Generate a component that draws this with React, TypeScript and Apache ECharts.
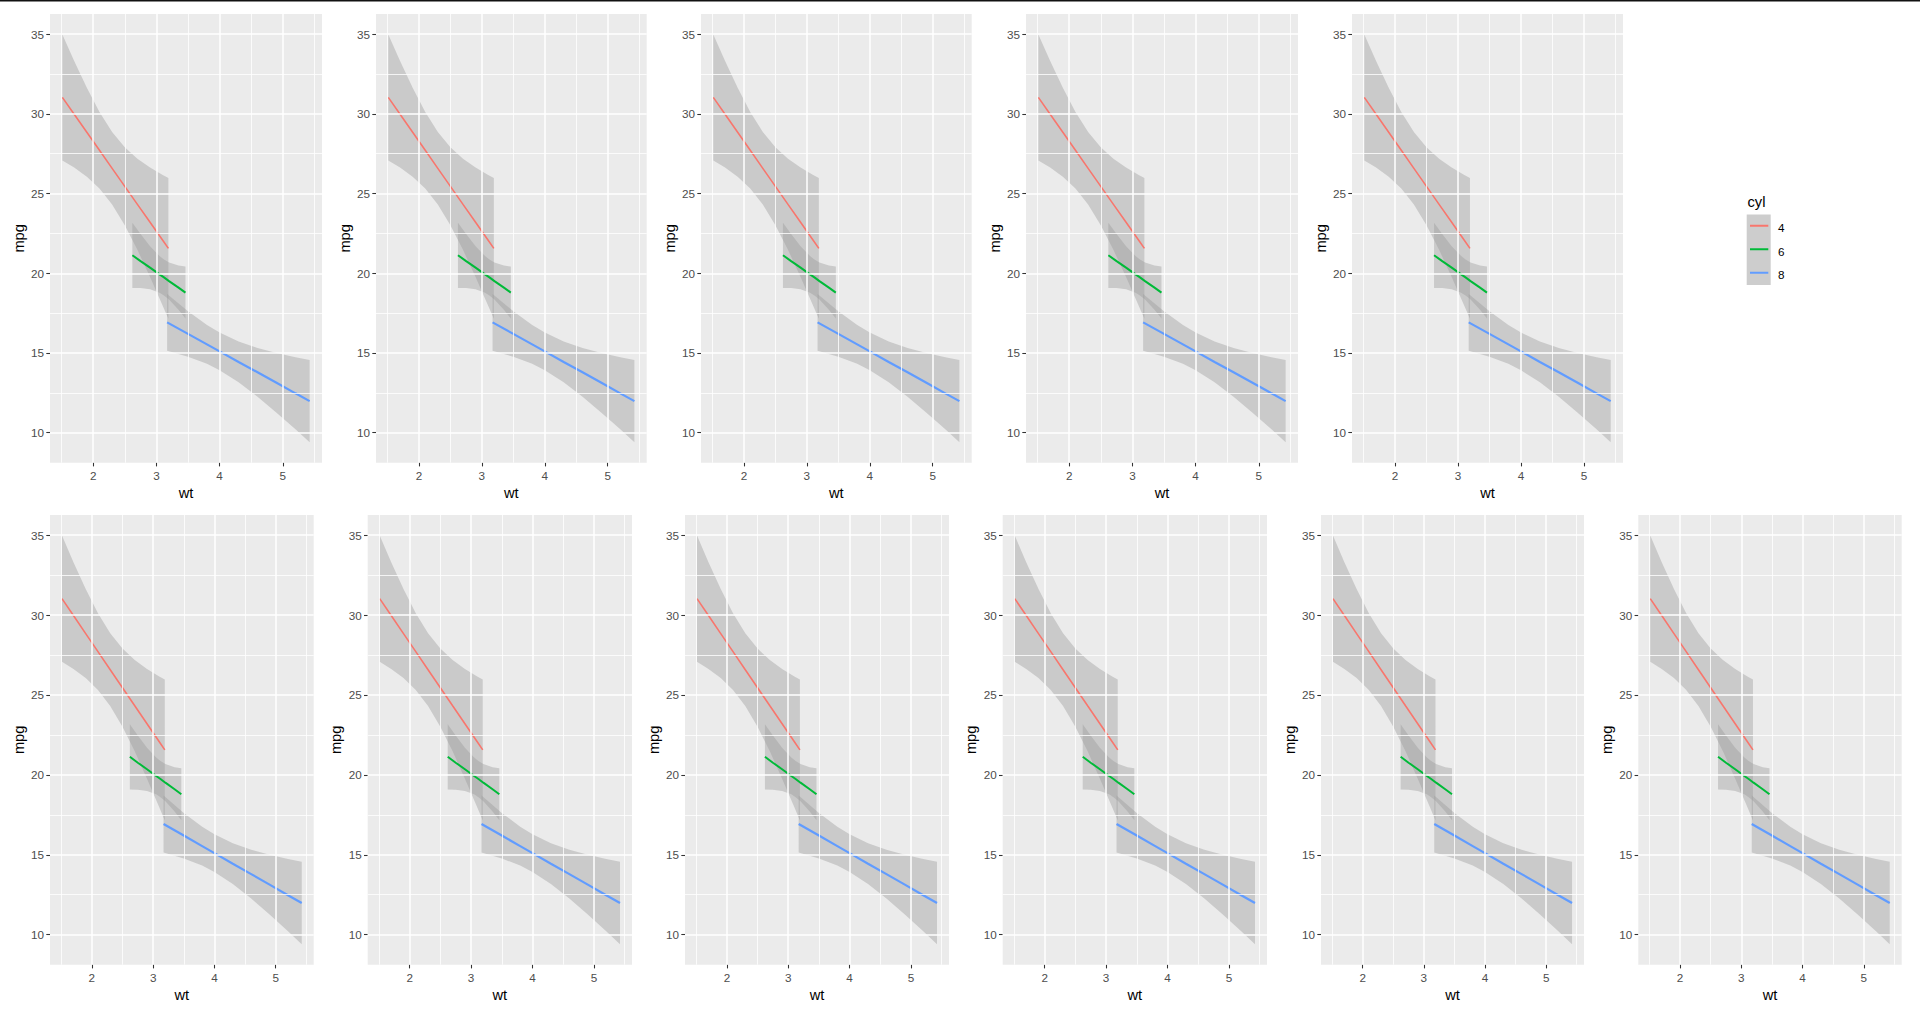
import React, { useEffect, useRef } from "react";
import * as echarts from "echarts";

// ---- data ----
const cylLevels = ["4", "6", "8"];
const cylColors = ["#F8766D", "#00BA38", "#619CFF"];

const wt4 = [1.513, 1.7, 1.9, 2.1, 2.3, 2.5, 2.7, 2.9, 3.1, 3.19];
const fit4 = [31.03, 29.97, 28.84, 27.71, 26.58, 25.45, 24.32, 23.2, 22.07, 21.56];
const lo4 = [27.08, 26.63, 26.06, 25.31, 24.31, 23.01, 21.47, 19.76, 17.97, 17.14];
const hi4 = [34.98, 33.31, 31.63, 30.11, 28.86, 27.9, 27.18, 26.63, 26.16, 25.97];

const wt6 = [2.62, 2.75, 2.9, 3.05, 3.12, 3.2, 3.35, 3.46];
const fit6 = [21.13, 20.76, 20.35, 19.93, 19.74, 19.51, 19.1, 18.79];
const lo6 = [19.08, 19.07, 18.99, 18.78, 18.6, 18.35, 17.71, 17.16];
const hi6 = [23.17, 22.46, 21.7, 21.09, 20.87, 20.68, 20.48, 20.42];

const wt8 = [3.17, 3.5, 3.8, 4.0, 4.3, 4.6, 4.9, 5.2, 5.424];
const fit8 = [16.92, 16.2, 15.54, 15.1, 14.44, 13.79, 13.13, 12.47, 11.98];
const lo8 = [15.14, 14.77, 14.32, 13.92, 13.17, 12.26, 11.26, 10.21, 9.4];
const hi8 = [18.7, 17.62, 16.76, 16.28, 15.72, 15.31, 15.0, 14.74, 14.56];

const xTicks = [2, 3, 4, 5];
const xMinor = [1.5, 2.5, 3.5, 4.5, 5.5];
const yTicks = [10, 15, 20, 25, 30, 35];
const yMinor = [12.5, 17.5, 22.5, 27.5, 32.5];
const xRange = [1.3175, 5.6195];
const yRange = [8.12, 36.26];

// ---- layout ----
const topRowX = [
  [50, 322],
  [376, 646.7],
  [701, 971.7],
  [1026, 1298],
  [1352, 1623],
];
const bottomRowX = [
  [50, 313.7],
  [367.7, 632],
  [685, 949],
  [1002.7, 1267],
  [1321, 1584],
  [1638.3, 1901.7],
];
const topRowY = [14, 462.7];
const bottomRowY = [515, 964.7];

const FONT = "Liberation Sans, Arial, Helvetica, sans-serif";

const groups = [
  { x: wt4, fit: fit4, lo: lo4, hi: hi4 },
  { x: wt6, fit: fit6, lo: lo6, hi: hi6 },
  { x: wt8, fit: fit8, lo: lo8, hi: hi8 },
];
const lineWidths = [1.6, 2.0, 2.2];

function buildOption() {
  const panels: { l: number; r: number; t: number; b: number }[] = [];
  topRowX.forEach(([l, r]) => panels.push({ l, r, t: topRowY[0], b: topRowY[1] }));
  bottomRowX.forEach(([l, r]) => panels.push({ l, r, t: bottomRowY[0], b: bottomRowY[1] }));

  const grid: any[] = [];
  const xAxis: any[] = [];
  const yAxis: any[] = [];
  const series: any[] = [];

  panels.forEach((p, i) => {
    grid.push({
      left: p.l,
      top: p.t,
      width: p.r - p.l,
      height: p.b - p.t,
      show: true,
      backgroundColor: "#EBEBEB",
      borderWidth: 0,
      containLabel: false,
      outerBoundsMode: "none",
    });
    xAxis.push({
      type: "value",
      gridIndex: i,
      min: xRange[0],
      max: xRange[1],
      name: "wt",
      nameLocation: "middle",
      nameGap: 23,
      nameTextStyle: { color: "#000000", fontSize: 14.67, fontFamily: FONT },
      axisLine: { show: false },
      axisTick: {
        show: true,
        length: 3.7,
        customValues: xTicks,
        lineStyle: { color: "#333333", width: 1.07 },
      },
      axisLabel: {
        customValues: xTicks,
        color: "#4D4D4D",
        fontSize: 11.7,
        fontFamily: FONT,
        margin: 7,
      },
      splitLine: { show: false },
    });
    yAxis.push({
      type: "value",
      gridIndex: i,
      min: yRange[0],
      max: yRange[1],
      name: "mpg",
      nameLocation: "middle",
      nameGap: 24,
      nameRotate: 90,
      nameTextStyle: { color: "#000000", fontSize: 14.67, fontFamily: FONT },
      axisLine: { show: false },
      axisTick: {
        show: true,
        length: 3.7,
        customValues: yTicks,
        lineStyle: { color: "#333333", width: 1.07 },
      },
      axisLabel: {
        customValues: yTicks,
        color: "#4D4D4D",
        fontSize: 11.7,
        fontFamily: FONT,
        margin: 6,
      },
      splitLine: { show: false },
    });

    // panel grid lines (white major & minor)
    const ml: any[] = [];
    xMinor.forEach((v) => ml.push({ xAxis: v, lineStyle: { color: "#FFFFFF", width: 0.8, type: "solid" } }));
    yMinor.forEach((v) => ml.push({ yAxis: v, lineStyle: { color: "#FFFFFF", width: 0.8, type: "solid" } }));
    xTicks.forEach((v) => ml.push({ xAxis: v, lineStyle: { color: "#FFFFFF", width: 1.5, type: "solid" } }));
    yTicks.forEach((v) => ml.push({ yAxis: v, lineStyle: { color: "#FFFFFF", width: 1.5, type: "solid" } }));
    series.push({
      type: "line",
      xAxisIndex: i,
      yAxisIndex: i,
      data: [],
      silent: true,
      z: 1,
      markLine: {
        silent: true,
        symbol: ["none", "none"],
        label: { show: false },
        animation: false,
        emphasis: { disabled: true },
        data: ml,
      },
    });

    groups.forEach((g, gi) => {
      series.push({
        type: "custom",
        name: cylLevels[gi],
        xAxisIndex: i,
        yAxisIndex: i,
        silent: true,
        z: 2,
        data: [[g.x[0], g.lo[0]]],
        renderItem: (_params: any, api: any) => {
          const upper = g.x.map((x, k) => api.coord([x, g.hi[k]]));
          const lower = g.x.map((x, k) => api.coord([x, g.lo[k]])).reverse();
          return {
            type: "polygon",
            shape: { points: upper.concat(lower) },
            style: { fill: "rgba(153,153,153,0.4)", stroke: "none" },
          };
        },
      });
    });
    groups.forEach((g, gi) => {
      series.push({
        type: "line",
        name: cylLevels[gi],
        xAxisIndex: i,
        yAxisIndex: i,
        z: 3,
        silent: true,
        showSymbol: false,
        symbol: "none",
        data: g.x.map((x, k) => [x, g.fit[k]]),
        lineStyle: { color: cylColors[gi], width: lineWidths[gi] },
      });
    });
  });

  // legend drawn as graphic elements
  const keyTop = 214.5;
  const keyH = 23.5;
  const legendEls: any[] = [
    {
      type: "text",
      left: 1747.5,
      top: 194,
      style: { text: "cyl", fill: "#000000", font: `14.67px ${FONT}` },
    },
    {
      type: "rect",
      shape: { x: 1746.7, y: keyTop, width: 24, height: keyH * 3 },
      style: { fill: "#CDCDCD" },
    },
  ];
  cylLevels.forEach((lv, gi) => {
    const cy = keyTop + keyH * gi + keyH / 2 - 0.5;
    legendEls.push({
      type: "line",
      shape: { x1: 1750, y1: cy, x2: 1768.3, y2: cy },
      style: { stroke: cylColors[gi], lineWidth: 2 },
    });
    legendEls.push({
      type: "text",
      x: 1778,
      y: cy + 2,
      style: {
        text: lv,
        fill: "#000000",
        font: `11.7px ${FONT}`,
        textVerticalAlign: "middle",
        verticalAlign: "middle",
      },
    });
  });

  return {
    animation: false,
    backgroundColor: "#FFFFFF",
    textStyle: { fontFamily: FONT },
    grid,
    xAxis,
    yAxis,
    series,
    graphic: [
      {
        type: "rect",
        shape: { x: 0, y: 0, width: 1920, height: 1.5 },
        style: { fill: "#111111" },
        z: 100,
      },
      ...legendEls,
    ],
  };
}

export default function App() {
  const ref = useRef<HTMLDivElement | null>(null);
  useEffect(() => {
    if (!ref.current) return;
    const chart = echarts.init(ref.current, undefined, { renderer: "svg" });
    chart.setOption(buildOption() as any);
    return () => {
      chart.dispose();
    };
  }, []);
  return (
    <div
      ref={ref}
      style={{ position: "absolute", left: 0, top: 0, width: 1920, height: 1017 }}
    />
  );
}
